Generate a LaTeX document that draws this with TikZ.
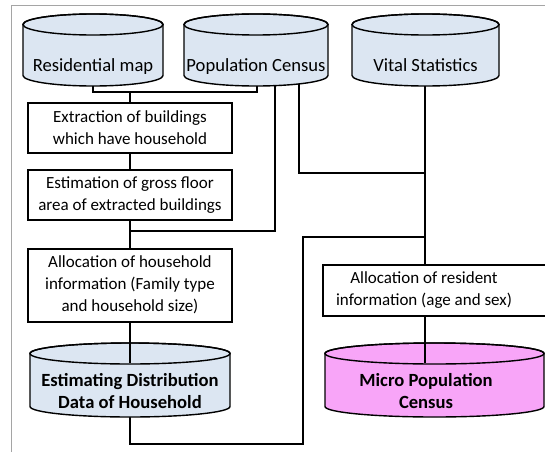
\documentclass[tikz,border=0pt]{standalone}
\usepackage{fontspec}
\setmainfont{Carlito}
\usetikzlibrary{calc}
\definecolor{cylblue}{RGB}{220,230,242}
\definecolor{cylpink}{RGB}{248,165,248}
\definecolor{framegray}{RGB}{165,165,165}
\newcommand\drawcyl[5]{%
  \pgfmathsetmacro\cxc{(#1+#2)/2}%
  \pgfmathsetmacro\crx{(#2-#1)/2}%
  \pgfmathsetmacro\cyt{-#3-10.5}%
  \pgfmathsetmacro\cyb{-#4+10.5}%
  \filldraw[cylline, fill=#5] (#1,\cyt) -- (#1,\cyb) arc[start angle=180,end angle=360,x radius=\crx,y radius=10.5] -- (#2,\cyt) arc[start angle=0,end angle=180,x radius=\crx,y radius=10.5] -- cycle;
  \draw[cylline] (\cxc,\cyt) ellipse[x radius=\crx, y radius=10.5];
}
\begin{document}
\begin{tikzpicture}[x=1pt,y=1pt,
  cylline/.style={draw=black, line width=1.4pt},
  conn/.style={draw=black, line width=1.4pt},
  stepbox/.style={draw=black, line width=1.4pt, fill=white, align=center, inner sep=0pt},
  ctxt/.style={align=center, inner sep=0pt, font=\fontsize{18.6}{22.5}\selectfont},
  txt/.style={align=center, inner sep=0pt, font=\fontsize{17}{22}\selectfont},
  btxt/.style={align=center, inner sep=0pt, font=\fontsize{18.6}{22.5}\selectfont\bfseries}]
\useasboundingbox (0,0) rectangle (545,-452);
\clip (0,0) rectangle (545,-452);
\draw[framegray, line width=1pt] (11.5,-452) -- (11.5,-5.5) -- (545,-5.5);

% attachment coordinates
\coordinate (rmB) at (93,-80);
\coordinate (pcB1) at (257,-80);
\coordinate (pcB2) at (275,-80);
\coordinate (pcB3) at (299,-78);
\coordinate (vsB) at (425,-80);
\coordinate (j1) at (130,-92);
\coordinate (j2) at (130,-231);
\coordinate (j4) at (303,-444);
\coordinate (j5) at (425,-237);
\coordinate (j6) at (425,-173);
\coordinate (edT) at (130,-363);
\coordinate (edB) at (130,-410);
\coordinate (mpT) at (425,-363);

% boxes
\node[stepbox, minimum width=204pt, minimum height=50pt] (b1) at (130,-128) {};
\node[stepbox, minimum width=204pt, minimum height=50pt] (b2) at (130,-195) {};
\node[stepbox, minimum width=204pt, minimum height=73pt] (b3) at (130,-285.5) {};
\node[stepbox, minimum width=237pt, minimum height=51pt] (b4) at (441.5,-290.5) {};

% connectors (behind cylinders)
\draw[conn] (rmB) |- (j1) -| (pcB1);
\draw[conn] (j1) -- (b1.north);
\draw[conn] (b1.south) -- (b2.north);
\draw[conn] (b2.south) -- (b3.north);
\draw[conn] (j2) -| (pcB2);
\draw[conn] (pcB3) |- (j6);
\draw[conn] (vsB) -- (vsB |- b4.north);
\draw[conn] (edB) |- (j4) |- (j5);

% cylinders
\drawcyl{23}{163}{14}{86}{cylblue}
\drawcyl{184}{328}{14}{86}{cylblue}
\drawcyl{352}{499}{14}{86}{cylblue}
\drawcyl{30}{230}{343}{417}{cylblue}
\drawcyl{325}{544}{343}{417}{cylpink}

\draw[conn] (b3.south) -- (edT);
\draw[conn] (b4.south -| mpT) -- (mpT);

% texts
\node[ctxt, anchor=base] (rm) at (93,-71) {Residential map};
\node[ctxt, anchor=base] (pc) at (256,-71) {Population Census};
\node[ctxt, anchor=base] (vs) at (425.5,-71) {Vital Statistics};
\node[txt] (b1t) at (b1.center) {Extraction of buildings\\which have household};
\node[txt] (b2t) at (b2.center) {Estimation of gross floor\\area of extracted buildings};
\node[txt] (b3t) at ($(b3.center)+(0,1)$) {Allocation of household\\information (Family type\\and household size)};
\node[txt] (b4t) at (424,-290.5) {Allocation of resident\\information (age and sex)};
\node[btxt] (ed) at (130,-391) {Estimating Distribution\\Data of Household};
\node[btxt] (mp) at (426,-391) {Micro Population\\Census};
\end{tikzpicture}
\end{document}
